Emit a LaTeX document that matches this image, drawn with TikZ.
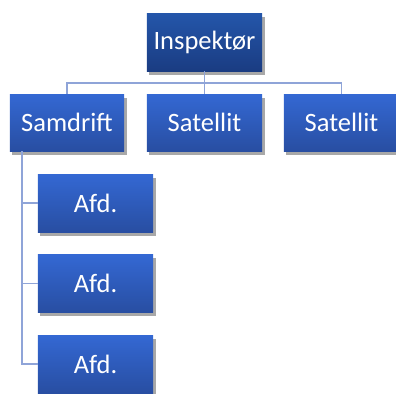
\documentclass[tikz,border=0pt]{standalone}
\usepackage{fontspec}
\setmainfont{Carlito}
\usetikzlibrary{shadows}
\definecolor{topA}{RGB}{36,86,170}
\definecolor{botA}{RGB}{26,60,130}
\definecolor{topB}{RGB}{52,104,211}
\definecolor{botB}{RGB}{40,78,162}
\definecolor{conn}{RGB}{143,164,216}
\tikzset{
  orgbox/.style={minimum width=115bp, minimum height=58bp, inner sep=0pt, text=white,
    font=\fontsize{26.5bp}{30bp}\selectfont,
    drop shadow={shadow xshift=2.5bp, shadow yshift=-3.5bp, fill=black!40, opacity=0.85},
    shading=axis, top color=topB, bottom color=botB},
  topbox/.style={orgbox, top color=topA, bottom color=botA},
  link/.style={draw=conn, line width=1.5bp}
}
\begin{document}
\begin{tikzpicture}[x=1bp,y=-1bp]
\useasboundingbox (0,0) rectangle (396,394);
\node[topbox] (insp) at (204.5,42) {Inspektør};
\node[orgbox, minimum width=114bp, minimum height=57bp] (samd) at (67,122.5) {Samdrift};
\node[orgbox, minimum height=57bp] (sat1) at (204.5,122.5) {Satellit};
\node[orgbox, minimum height=57bp] (sat2) at (341.5,122.5) {Satellit};
\node[orgbox] (afd1) at (95.5,203) {Afd.};
\node[orgbox] (afd2) at (95.5,283.5) {Afd.};
\node[orgbox] (afd3) at (95.5,364) {Afd.};
\coordinate (bus) at (204.5,83);
\coordinate (spine) at (22,151);
\draw[link] (insp.south) -- (bus);
\draw[link] (samd.north) |- (bus) -| (sat2.north);
\draw[link] (bus) -- (sat1.north);
\draw[link] (spine) |- (afd3.west);
\draw[link] (spine |- afd1.west) -- (afd1.west);
\draw[link] (spine |- afd2.west) -- (afd2.west);
\end{tikzpicture}
\end{document}
